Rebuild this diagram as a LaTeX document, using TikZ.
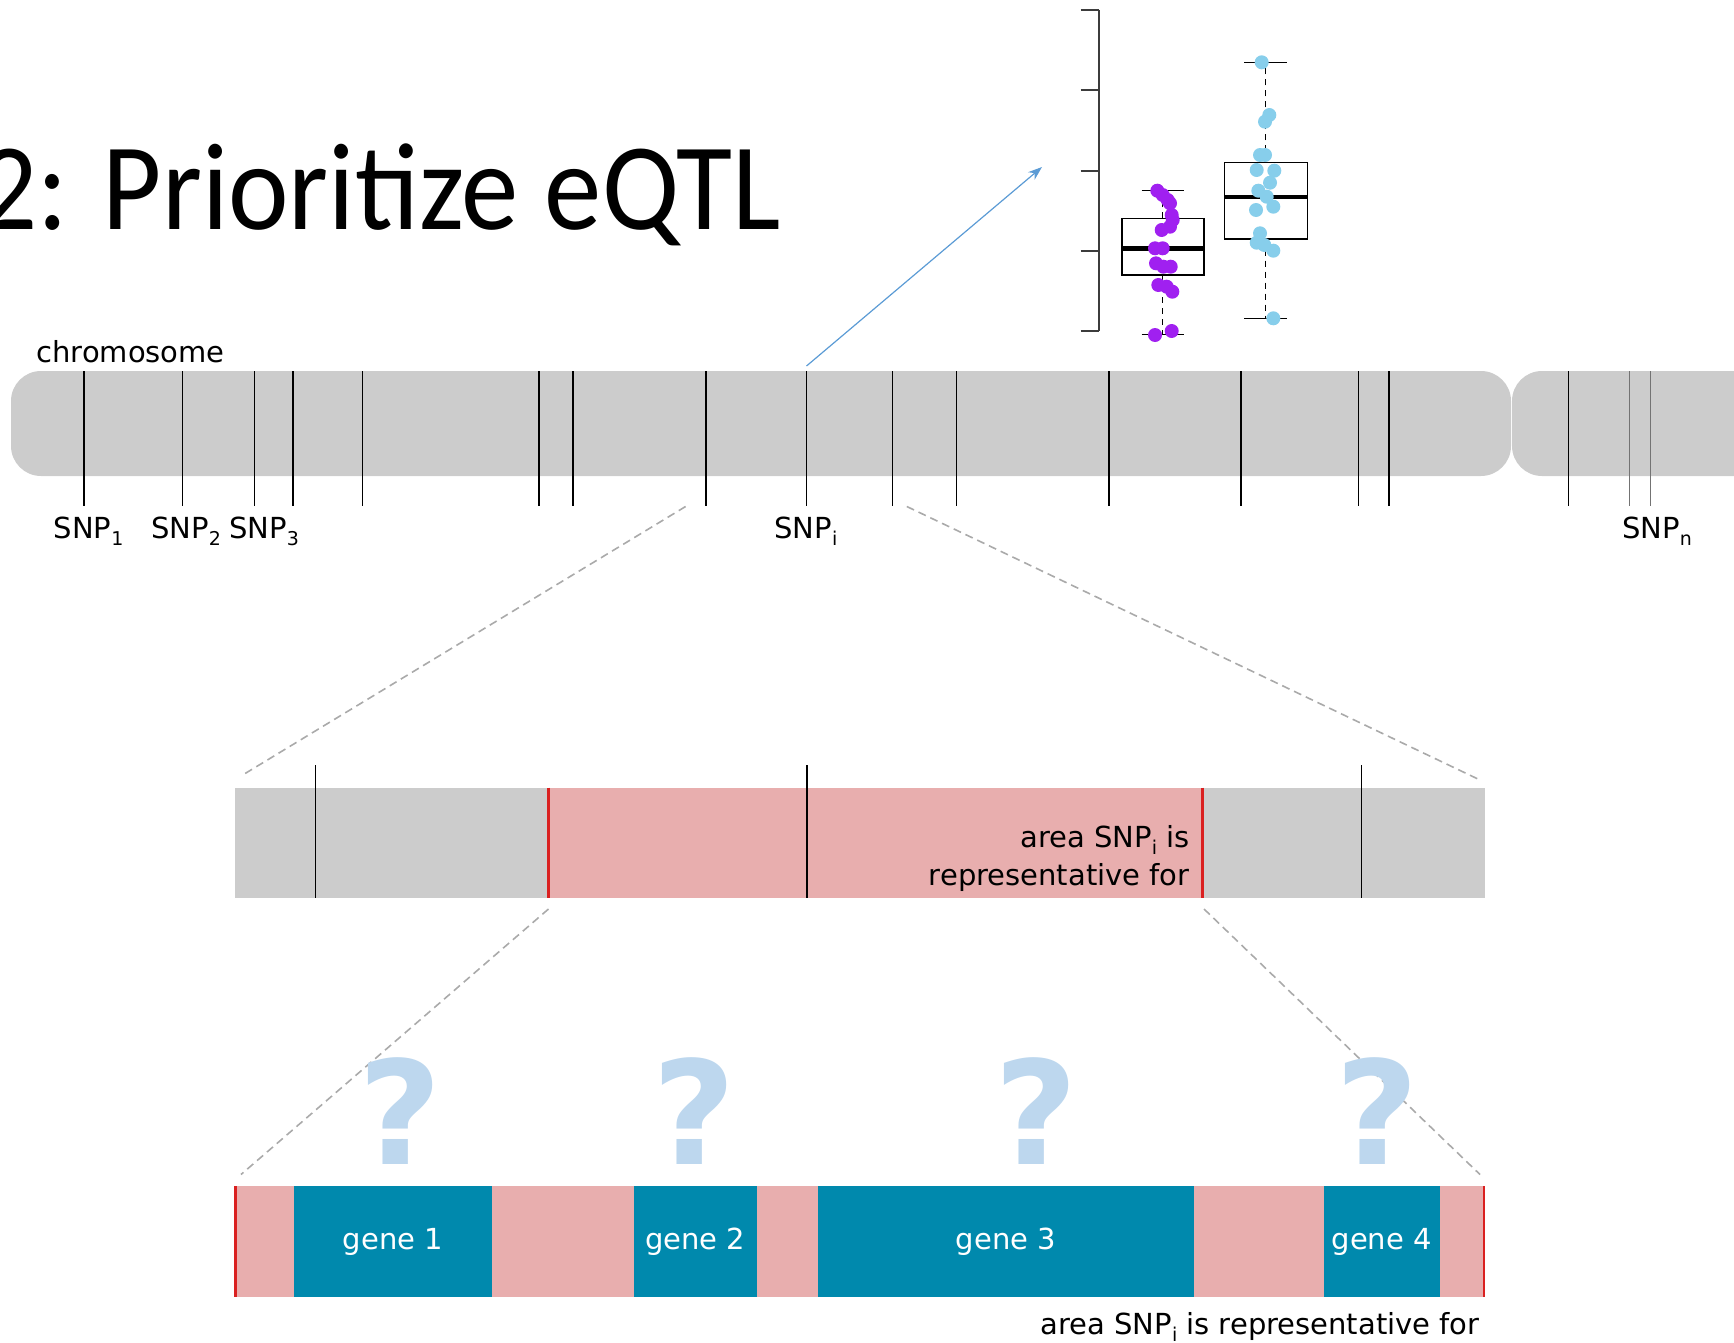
\documentclass[tikz,border=0pt]{standalone}
\usepackage{fontspec}
\setmainfont{DejaVu Sans}
\newfontfamily\titlefont[FakeStretch=0.925]{Carlito}
\newfontfamily\qfont{DejaVu Sans Bold}
\usetikzlibrary{arrows.meta}
\definecolor{chrgray}{RGB}{204,204,204}
\definecolor{regpink}{RGB}{232,174,174}
\definecolor{regred}{RGB}{218,32,32}
\definecolor{genecol}{RGB}{0,137,173}
\definecolor{qblue}{RGB}{189,215,238}
\definecolor{arrblue}{RGB}{91,155,213}
\definecolor{dotpurple}{RGB}{160,32,240}
\definecolor{dotblue}{RGB}{135,206,235}
\definecolor{zoomgray}{RGB}{170,170,170}
\definecolor{axisgray}{RGB}{60,60,60}
\newcommand{\snpsub}[1]{SNP\raisebox{-0.45ex}{\fontsize{9.5}{10}\selectfont #1}}
\begin{document}
\begin{tikzpicture}[x=0.5pt,y=-0.5pt,
  lbl/.style={font=\fontsize{14.5}{17}\selectfont, inner sep=0pt},
  snplbl/.style={lbl, anchor=base},
  snpline/.style={line width=#1, black},
  genebox/.style={fill=genecol, draw=none, minimum height=55.5pt, inner sep=0pt,
     text=white, font=\fontsize{14.5}{17}\selectfont},
  qmark/.style={text=qblue, font=\qfont\fontsize{72}{80}\selectfont, anchor=base, inner sep=0pt},
  zoomline/.style={zoomgray, line width=0.8pt, dash pattern=on 4pt off 2.5pt},
  redmark/.style={regred, line width=1.3pt},
  whisk/.style={black, line width=0.7pt, dash pattern=on 3pt off 2.5pt},
  capline/.style={black, line width=0.7pt},
  boxln/.style={black, line width=0.8pt},
  medln/.style={black, line width=2.2pt},
]
\useasboundingbox (0,0) rectangle (1734,1343);

% title
\node[font=\titlefont\fontsize{62}{70}\selectfont, anchor=base east, inner sep=0pt] (title) at (781,229) {2: Prioritize eQTL};

% chromosome
\node[lbl, anchor=base west] (chrlbl) at (36,362.5) {chromosome};
\fill[chrgray, rounded corners=15pt] (11,371) rectangle (1511,476);
\fill[chrgray, rounded corners=15pt] (1512,371) rectangle (1950,476);
\foreach \x/\w in {84/0.6pt, 182.5/0.8pt, 254.5/0.6pt, 293/1pt, 362.7/0.6pt, 538.7/1pt, 573/1pt,
   705.5/1pt, 806.5/0.6pt, 892.5/0.8pt, 956.5/0.8pt, 1109/0.8pt, 1240.7/0.8pt, 1358.8/0.6pt,
   1389/0.8pt, 1568.5/0.8pt}
  \draw[snpline=\w] (\x,371) -- (\x,505.5);
\draw[black!55, line width=0.6pt] (1629.3,371) -- (1629.3,505.5);
\draw[black!55, line width=0.6pt] (1650.8,371) -- (1650.8,505.5);

\node[snplbl] (snp1) at (88.5,538.6) {\snpsub{1}};
\node[snplbl] (snp2) at (186,538.6) {\snpsub{2}};
\node[snplbl] (snp3) at (264,538.6) {\snpsub{3}};
\node[snplbl] (snpi) at (806,538.6) {\snpsub{i}};
\node[snplbl] (snpn) at (1657,538.6) {\snpsub{n}};

% boxplot
\draw[axisgray, line width=1pt] (1099.3,10) -- (1099.3,331);
\foreach \y in {10,90.25,170.5,250.75,331}
  \draw[axisgray, line width=1pt] (1080.7,\y) -- (1099.3,\y);
% purple group
\draw[whisk] (1162.3,218.3) -- (1162.3,190.7);
\draw[whisk] (1162.3,275) -- (1162.3,334.3);
\draw[capline] (1141.7,190.7) -- (1184,190.7);
\draw[capline] (1141.7,334.3) -- (1184,334.3);
\draw[boxln] (1121.7,218.3) rectangle (1204,275);
\draw[medln] (1121.7,248.3) -- (1204,248.3);
% blue group
\draw[whisk] (1265.7,162.3) -- (1265.7,62.3);
\draw[whisk] (1265.7,238.7) -- (1265.7,318.3);
\draw[capline] (1244,62.3) -- (1286.7,62.3);
\draw[capline] (1244,318.3) -- (1286.7,318.3);
\draw[boxln] (1224.3,162.3) rectangle (1307.3,238.7);
\draw[medln] (1224.3,196.7) -- (1307.3,196.7);
\foreach \x/\y in {1157.3/190.7,1162.7/195,1167.7/200,1170/203.3,1171.7/215,1172.7/220,1170/226.7,
  1161.7/230,1155/248.3,1162.7/248.3,1156/263.3,1163.3/266.7,1170.7/266.7,1158.3/285,1166.7/286.7,
  1172.3/291.7,1155/335,1171.7/331}
  \fill[dotpurple] (\x,\y) circle[radius=3.5pt];
\foreach \x/\y in {1261.7/62.3,1269.3/115,1265/121.7,1260/155,1265/155,1256.7/170,1274.3/170.7,
  1270/182.7,1258.3/190.7,1266.7/196.7,1273.3/206.7,1256/210,1260/233.3,1256.7/242.7,1264.3/245,
  1273.3/250.7,1273.3/318.3}
  \fill[dotblue] (\x,\y) circle[radius=3.5pt];

% arrow from SNP_i to plot
\coordinate (snpitop) at (806.5,366);
\coordinate (plottip) at (1042,167);
\draw[arrblue, line width=0.6pt, -{Stealth[length=7pt,width=5pt]}] (snpitop) -- (plottip);

% zoom lines 1
\coordinate (za1) at (685.6,506.5);
\coordinate (za2) at (241,776);
\coordinate (zb1) at (906.8,506.5);
\coordinate (zb2) at (1480,780);
\draw[zoomline] (za1) -- (za2);
\draw[zoomline] (zb1) -- (zb2);

% middle bar
\fill[chrgray] (235,787.5) rectangle (1484.5,898);
\fill[regpink] (548.7,787.5) rectangle (1202.5,898);
\foreach \x in {315.4,807,1361.2}
  \draw[black, line width=0.7pt] (\x,765) -- (\x,898);
\draw[redmark] (548.7,787.5) -- (548.7,898);
\draw[redmark] (1202.5,787.5) -- (1202.5,898);
\node[lbl, anchor=base east] (area1) at (1190,847) {area \snpsub{i} is};
\node[lbl, anchor=base east] (area2) at (1190,885) {representative for};

% zoom lines 2
\coordinate (zc1) at (548.5,909);
\coordinate (zc2) at (241,1174.5);
\coordinate (zd1) at (1204,909);
\coordinate (zd2) at (1480,1174.5);
\draw[zoomline] (zc1) -- (zc2);
\draw[zoomline] (zd1) -- (zd2);

% question marks
\node[qmark] (q1) at (400.3,1164.5) {?};
\node[qmark] (q2) at (694.5,1164.5) {?};
\node[qmark] (q3) at (1036.2,1164.5) {?};
\node[qmark] (q4) at (1376.8,1164.5) {?};

% bottom bar
\fill[regpink] (235,1186) rectangle (1484.5,1297);
\node[genebox, minimum width=99.1pt] (g1) at (392.9,1241.5) {gene 1};
\node[genebox, minimum width=61.35pt] (g2) at (695.15,1241.5) {gene 2};
\node[genebox, minimum width=188.25pt] (g3) at (1006.05,1241.5) {gene 3};
\node[genebox, minimum width=58.05pt] (g4) at (1381.75,1241.5) {gene 4};
\draw[redmark] (235.5,1186) -- (235.5,1297);
\draw[redmark] (1484,1186) -- (1484,1297);
\node[lbl, anchor=base east] (area3) at (1480,1334) {area \snpsub{i} is representative for};
\end{tikzpicture}
\end{document}
